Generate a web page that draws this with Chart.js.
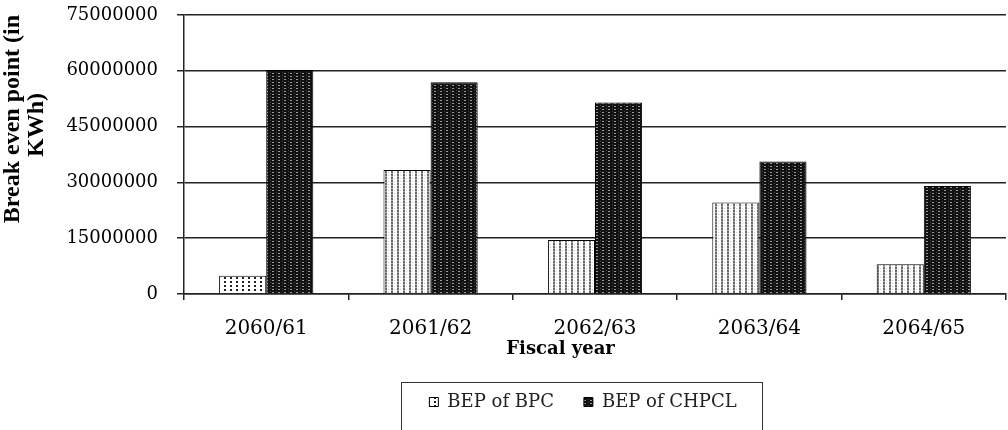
<!DOCTYPE html>
<html>
<head>
<meta charset="utf-8">
<script src="https://cdn.jsdelivr.net/npm/chart.js@4/dist/chart.umd.min.js"></script>
<style>
    body { margin: 0; background: #fff; }
    #wrap { width: 1008px; height: 430px; }
</style>
</head>
<body>
<div id="wrap"><canvas id="chart"></canvas></div>
<script>
const FiscalYears = ["2060/61", "2061/62", "2062/63", "2063/64", "2064/65"];
const BepBPC = [4900000, 33300000, 14500000, 24600000, 8000000];
const BepCHPCL = [60200000, 56900000, 51500000, 35600000, 29000000];
const YTicks = [0, 15000000, 30000000, 45000000, 60000000, 75000000];

// little tiles used as bar fills
function makePattern(w, h, bg, cells) {
    var c = document.createElement("canvas");
    c.width = w;
    c.height = h;
    var g = c.getContext("2d");
    g.fillStyle = bg;
    g.fillRect(0, 0, w, h);
    cells.forEach(function (p) {
        g.fillStyle = p[4];
        g.fillRect(p[0], p[1], p[2], p[3]);
    });
    return g.createPattern(c, "repeat");
}

const dotsFill = makePattern(6, 4, "#fff", [[2, 1, 2, 2, "#222"]]);
const linesFill = makePattern(6, 3, "#fff", [[1, 0, 2, 2, "#6a6a6a"], [1, 2, 2, 1, "#aaa"], [4, 1, 1, 1, "#ccc"]]);
const darkFill = makePattern(6, 3, "#111", [[2, 1, 2, 1, "#9a9a9a"], [0, 0, 1, 1, "#444"]]);
const keyFill = makePattern(3, 3, "#333", [[1, 1, 1, 1, "#ddd"]]);

const legendFrame = {
    id: "legendFrame",
    afterLayout(chart) {
        chart.legend.left += 80;
        chart.legend.right += 80;
    },
    afterDraw(chart) {
        var boxes = chart.legend.legendHitBoxes;
        if (!boxes || !boxes.length) return;
        var first = boxes[0];
        var last = boxes[boxes.length - 1];
        var ctx = chart.ctx;
        ctx.save();
        ctx.strokeStyle = "#333";
        ctx.lineWidth = 1;
        ctx.strokeRect(Math.round(first.left - 28) + 0.5, Math.round(first.top - 11) + 0.5,
            Math.round(last.left + last.width - first.left + 54), 80);
        ctx.restore();
    }
};

var myBarChart = new Chart(document.getElementById("chart"), {
    type: 'bar',
    data: {
        labels: FiscalYears,
        datasets: [{
            label: "BEP of BPC",
            data: BepBPC,
            backgroundColor: function (c) {
                if (c.dataIndex === undefined) return keyFill;
                return c.dataIndex === 0 ? dotsFill : linesFill;
            },
            borderColor: "#000",
            borderWidth: 1
        }, {
            label: "BEP of CHPCL",
            data: BepCHPCL,
            backgroundColor: darkFill,
            borderColor: "#000",
            borderWidth: 1
        }]
    },
    options: {
        responsive: true,
        maintainAspectRatio: false,
        animation: false,
        categoryPercentage: 0.573,
        barPercentage: 1,
        layout: {
            padding: { top: 15, right: 2, bottom: 9, left: 0 }
        },
        plugins: {
            tooltip: { enabled: false },
            legend: {
                position: 'bottom',
                labels: {
                    boxWidth: 9,
                    boxHeight: 9,
                    padding: 30,
                    color: "#222",
                    font: { family: "DejaVu Serif", size: 18 }
                }
            }
        },
        scales: {
            x: {
                afterFit: function (scale) { scale.height = 69; },
                grid: {
                    offset: true,
                    drawOnChartArea: false,
                    tickLength: 6,
                    color: "#222",
                    lineWidth: 1.5
                },
                border: { color: "#222", width: 1.5 },
                ticks: {
                    padding: 17,
                    color: "#000",
                    font: { family: "DejaVu Serif", size: 20 }
                },
                title: {
                    display: true,
                    text: "Fiscal year" + " ".repeat(11),
                    color: "#000",
                    padding: { top: 0, bottom: 3 },
                    font: { family: "DejaVu Serif", size: 18, weight: 'bold' }
                }
            },
            y: {
                min: 0,
                max: 75000000,
                afterFit: function (scale) {
                    scale.width = 184;
                    scale.paddingTop = 0;
                    scale.paddingBottom = 0;
                },
                afterBuildTicks: function (scale) {
                    scale.ticks = YTicks.map(function (v) { return { value: v }; });
                },
                grid: {
                    tickLength: 7,
                    color: "#222",
                    lineWidth: 1.5
                },
                border: { color: "#222", width: 1.5 },
                ticks: {
                    padding: 19,
                    color: "#000",
                    font: { family: "DejaVu Serif", size: 18 },
                    callback: function (v) { return String(v); }
                },
                title: {
                    display: true,
                    align: 'end',
                    text: ["Break even point (in", "KWh)" + " ".repeat(13)],
                    color: "#000",
                    padding: { top: 1, bottom: 0 },
                    font: { family: "Liberation Serif", size: 24, weight: 'bold', lineHeight: 1 }
                }
            }
        }
    },
    plugins: [legendFrame]
});
</script>
</body>
</html>
